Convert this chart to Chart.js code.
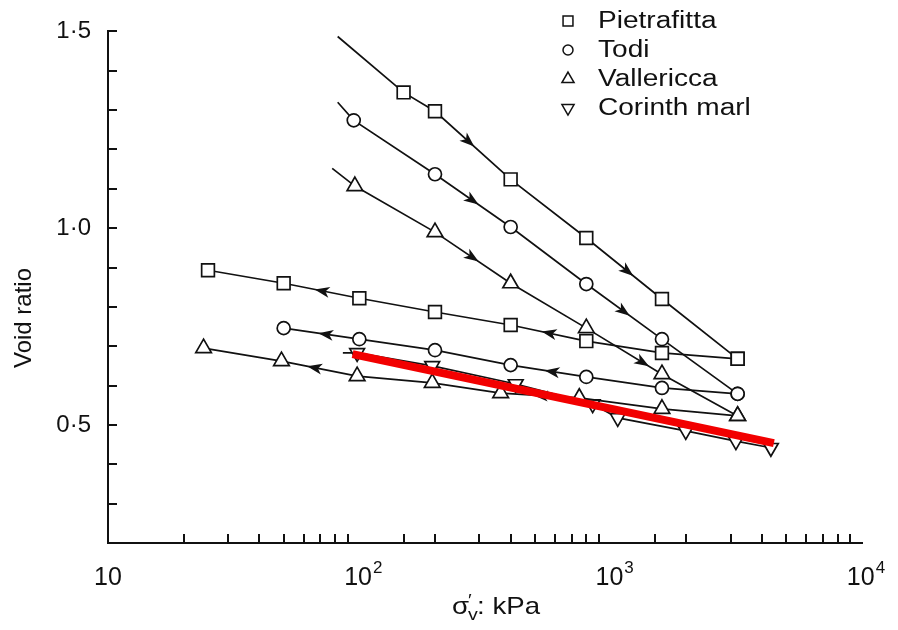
<!DOCTYPE html>
<html>
<head>
<meta charset="utf-8">
<script src="https://cdn.jsdelivr.net/npm/chart.js@4.4.1/dist/chart.umd.min.js"></script>
<style>
  html, body { margin: 0; padding: 0; background: #fff; }
  #wrap { width: 898px; height: 630px; }
</style>
</head>
<body>
<div id="wrap"><canvas id="voidChart" width="898" height="630"></canvas></div>
<script>
// effective vertical stress (kPa) vs void ratio
const pietLoadStress = [82, 150, 200, 400, 800, 1600, 3200];
const pietLoadVoid = [1.487, 1.345, 1.297, 1.124, 0.975, 0.820, 0.668];
const pietUnloadStress = [3200, 1600, 800, 400, 200, 100, 50, 25];
const pietUnloadVoid = [0.668, 0.683, 0.713, 0.754, 0.787, 0.822, 0.860, 0.893];

const todiLoadStress = [82, 95, 200, 400, 800, 1600, 3200];
const todiLoadVoid = [1.320, 1.274, 1.137, 1.003, 0.858, 0.718, 0.579];
const todiUnloadStress = [3200, 1600, 800, 400, 200, 100, 50];
const todiUnloadVoid = [0.579, 0.594, 0.622, 0.652, 0.690, 0.718, 0.746];

const vallLoadStress = [78, 96, 200, 400, 800, 1600, 3200];
const vallLoadVoid = [1.152, 1.107, 0.990, 0.860, 0.746, 0.629, 0.523];
const vallUnloadStress = [3200, 1600, 750, 365, 195, 98, 49, 24];
const vallUnloadVoid = [0.523, 0.541, 0.569, 0.581, 0.607, 0.624, 0.662, 0.695];

const corinthStress = [86, 98, 195, 419, 848, 1067, 1990, 3150, 4340];
const corinthVoid = [0.683, 0.683, 0.650, 0.604, 0.553, 0.518, 0.485, 0.459, 0.442];

// red fitted line drawn over the Corinth marl data
const redFitStress = [94, 4460];
const redFitVoid = [0.680, 0.454];

// x labels: base and exponent, drawn as 10 with a raised power
const xTickValues = [10, 100, 1000, 10000];
const xTickPowers = ['', '2', '3', '4'];
const yTickLabels = { 5: '0·5', 10: '1·0', 15: '1·5' };

const legendLabels = ['Pietrafitta', 'Todi', 'Vallericca', 'Corinth marl'];
const legendStyles = ['rect', 'circle', 'triangle', 'triangleDown'];

// direction arrows: [series key, segment index, fraction along segment]
const arrowMarks = [
  ['pietLoad', 2, 0.45], ['pietLoad', 4, 0.55],
  ['todiLoad', 2, 0.5], ['todiLoad', 4, 0.5],
  ['vallLoad', 2, 0.5], ['vallLoad', 4, 0.75],
  ['pietUnload', 2, 0.5], ['pietUnload', 5, 0.5],
  ['todiUnload', 2, 0.46], ['todiUnload', 5, 0.45],
  ['vallUnload', 2, 0.5], ['vallUnload', 5, 0.57]
];

const FONT = '"Liberation Sans", Arial, sans-serif';

function series(key, xs, ys, style, radius, skipFirst) {
  return {
    key: key,
    label: key,
    data: xs.map((x, i) => ({ x: x, y: ys[i] })),
    borderColor: '#111',
    borderWidth: 1.7,
    backgroundColor: '#fff',
    pointStyle: style === 'triangleDown' ? 'triangle' : style,
    rotation: style === 'triangleDown' ? 180 : 0,
    pointRadius: xs.map((_, i) => (skipFirst && i === 0 ? 0 : radius)),
    pointBorderWidth: 1.7,
    pointBorderColor: '#111',
    pointBackgroundColor: '#fff',
    tension: 0,
    order: 1
  };
}

const datasets = [
  {
    key: 'redFit',
    label: 'redFit',
    data: redFitStress.map((x, i) => ({ x: x, y: redFitVoid[i] })),
    borderColor: '#f20000',
    borderWidth: 8,
    pointRadius: 0,
    order: -1
  },
  series('pietLoad', pietLoadStress, pietLoadVoid, 'rect', 9, true),
  series('pietUnload', pietUnloadStress, pietUnloadVoid, 'rect', 9, false),
  series('todiLoad', todiLoadStress, todiLoadVoid, 'circle', 6.5, true),
  series('todiUnload', todiUnloadStress, todiUnloadVoid, 'circle', 6.5, false),
  series('vallLoad', vallLoadStress, vallLoadVoid, 'triangle', 9, true),
  series('vallUnload', vallUnloadStress, vallUnloadVoid, 'triangle', 9, false),
  series('corinth', corinthStress, corinthVoid, 'triangleDown', 8.5, true)
];

function drawArrowHead(ctx, x, y, angle) {
  ctx.save();
  ctx.translate(x, y);
  ctx.rotate(angle);
  ctx.beginPath();
  ctx.moveTo(7, 0);
  ctx.lineTo(-8, -5.5);
  ctx.lineTo(-4, 0);
  ctx.lineTo(-8, 5.5);
  ctx.closePath();
  ctx.fill();
  ctx.restore();
}

// arrows go under the red line, so draw them just before it
const arrowPlugin = {
  id: 'arrows',
  beforeDatasetDraw(chart, args) {
    if (chart.data.datasets[args.index].key !== 'redFit') return;
    const ctx = chart.ctx;
    ctx.save();
    ctx.fillStyle = '#111';
    arrowMarks.forEach(([key, seg, t]) => {
      const idx = chart.data.datasets.findIndex(d => d.key === key);
      const pts = chart.getDatasetMeta(idx).data;
      const a = pts[seg], b = pts[seg + 1];
      const x = a.x + (b.x - a.x) * t;
      const y = a.y + (b.y - a.y) * t;
      drawArrowHead(ctx, x, y, Math.atan2(b.y - a.y, b.x - a.x));
    });
    ctx.restore();
  }
};

// tick marks point into the plot; x labels get a raised power
const axisDecor = {
  id: 'axisDecor',
  afterDraw(chart) {
    const { ctx, chartArea, scales } = chart;
    ctx.save();
    ctx.strokeStyle = '#111';
    ctx.lineWidth = 2;
    ctx.beginPath();
    scales.x.ticks.forEach(t => {
      if (xTickValues.includes(Math.round(t.value))) return;
      const px = Math.round(scales.x.getPixelForValue(t.value));
      ctx.moveTo(px, chartArea.bottom);
      ctx.lineTo(px, chartArea.bottom - 9);
    });
    scales.y.ticks.forEach(t => {
      const py = Math.round(scales.y.getPixelForValue(t.value));
      if (py > chartArea.bottom - 3) return;
      ctx.moveTo(chartArea.left, py);
      ctx.lineTo(chartArea.left + 9, py);
    });
    ctx.stroke();

    ctx.fillStyle = '#111';
    ctx.textBaseline = 'alphabetic';
    xTickValues.forEach((v, i) => {
      const px = scales.x.getPixelForValue(v);
      ctx.font = '25px ' + FONT;
      const wBase = ctx.measureText('10').width;
      ctx.font = '17px ' + FONT;
      const wPow = xTickPowers[i] ? ctx.measureText(xTickPowers[i]).width + 1 : 0;
      const x0 = px - (wBase + wPow) / 2 + (wPow ? 4 : 0);
      ctx.font = '25px ' + FONT;
      ctx.fillText('10', x0, chartArea.bottom + 42);
      if (wPow) {
        ctx.font = '17px ' + FONT;
        ctx.fillText(xTickPowers[i], x0 + wBase + 1, chartArea.bottom + 30);
      }
    });
    ctx.restore();
  }
};

// legend block at top right and the two axis titles
const annotations = {
  id: 'annotations',
  afterDraw(chart) {
    const ctx = chart.ctx;
    const H = Chart.helpers;
    ctx.save();
    ctx.strokeStyle = '#111';
    ctx.lineWidth = 1.5;
    legendLabels.forEach((label, i) => {
      const y = 21 + i * 29;
      const style = legendStyles[i];
      ctx.fillStyle = '#fff';
      H.drawPoint(ctx, {
        pointStyle: style === 'triangleDown' ? 'triangle' : style,
        rotation: style === 'triangleDown' ? 180 : 0,
        radius: style === 'circle' ? 5 : 7,
        borderWidth: 1.5
      }, 568, y);
      ctx.fillStyle = '#111';
      ctx.save();
      ctx.translate(598, y);
      ctx.scale(1.22, 1);
      ctx.font = '23px ' + FONT;
      ctx.textBaseline = 'middle';
      ctx.fillText(label, 0, 1);
      ctx.restore();
    });

    ctx.fillStyle = '#111';
    // y title
    ctx.save();
    ctx.translate(24, 318);
    ctx.rotate(-Math.PI / 2);
    ctx.font = '24px ' + FONT;
    ctx.textAlign = 'center';
    ctx.textBaseline = 'middle';
    ctx.fillText('Void ratio', 0, 0);
    ctx.restore();

    // x title: sigma'_v : kPa
    ctx.save();
    ctx.translate(452, 614);
    ctx.scale(1.15, 1);
    ctx.font = '24px ' + FONT;
    ctx.textBaseline = 'alphabetic';
    ctx.fillText('σ', 0, 0);
    const w = ctx.measureText('σ').width;
    ctx.font = '17px ' + FONT;
    ctx.fillText('′', w - 1, -8);
    ctx.fillText('v', w - 1, 6);
    ctx.font = '24px ' + FONT;
    ctx.fillText(': kPa', w + 7, 0);
    ctx.restore();
    ctx.restore();
  }
};

new Chart(document.getElementById('voidChart'), {
  type: 'line',
  data: { datasets: datasets },
  plugins: [arrowPlugin, axisDecor, annotations],
  options: {
    responsive: false,
    devicePixelRatio: 1,
    animation: false,
    layout: { padding: { left: 0, top: 30, right: 36, bottom: 0 } },
    plugins: { legend: { display: false }, tooltip: { enabled: false } },
    scales: {
      x: {
        type: 'logarithmic',
        min: 10,
        max: 10000,
        grid: { display: false, drawTicks: false },
        border: { display: true, color: '#111', width: 2 },
        ticks: { display: false, autoSkip: false },
        afterFit: s => { s.height = 87; }
      },
      y: {
        type: 'linear',
        min: 0.2,
        max: 1.5,
        grid: { display: false, drawTicks: false },
        border: { display: true, color: '#111', width: 2 },
        ticks: {
          stepSize: 0.1,
          padding: 17,
          color: '#111',
          font: { family: FONT, size: 24 },
          callback: v => yTickLabels[Math.round(v * 10)] || ''
        },
        afterFit: s => { s.width = 108; }
      }
    }
  }
});
</script>
</body>
</html>
